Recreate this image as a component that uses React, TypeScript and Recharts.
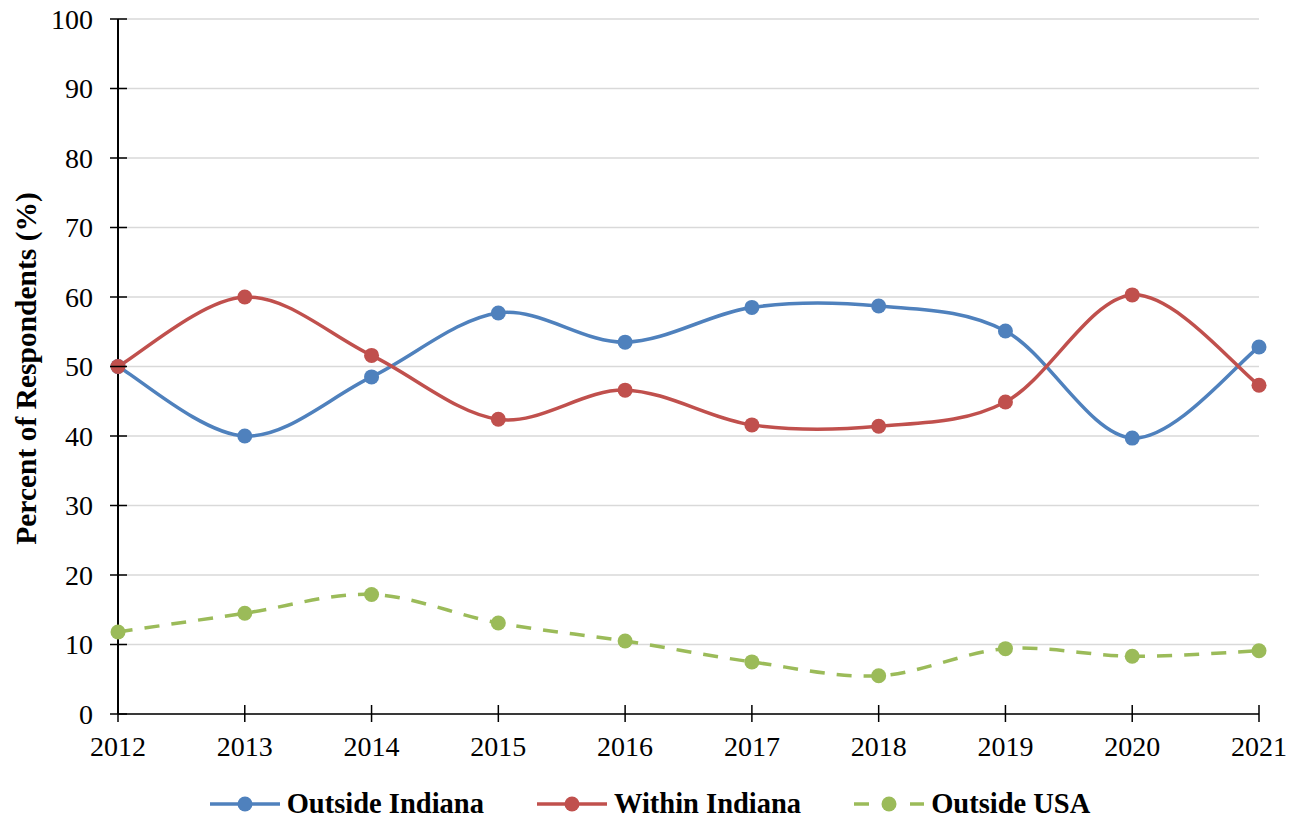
import React from 'react';
import { LineChart, Line, XAxis, YAxis, CartesianGrid, Legend } from 'recharts';

// Survey years
const years = ['2012', '2013', '2014', '2015', '2016', '2017', '2018', '2019', '2020', '2021'];

// Share of respondents (%) per location group
const outsideIndiana = [50.0, 40.0, 48.5, 57.7, 53.5, 58.5, 58.7, 55.1, 39.7, 52.8];
const withinIndiana = [50.0, 60.0, 51.6, 42.4, 46.6, 41.6, 41.4, 44.9, 60.3, 47.3];
const outsideUSA = [11.8, 14.5, 17.2, 13.1, 10.5, 7.5, 5.5, 9.4, 8.3, 9.1];

const yTicks = [0, 10, 20, 30, 40, 50, 60, 70, 80, 90, 100];

const BLUE = '#4f81bd';
const RED = '#c0504d';
const GREEN = '#9bbb59';
const FONT = '"Liberation Serif", "Times New Roman", serif';

const seriesInfo = [
  { key: 'outsideIndiana', name: 'Outside Indiana', color: BLUE, dashed: false },
  { key: 'withinIndiana', name: 'Within Indiana', color: RED, dashed: false },
  { key: 'outsideUSA', name: 'Outside USA', color: GREEN, dashed: true },
];

const data = years.map((year, i) => ({
  year,
  outsideIndiana: outsideIndiana[i],
  withinIndiana: withinIndiana[i],
  outsideUSA: outsideUSA[i],
}));

// Catmull-Rom style smoothing (bezier control points at 1/6 of neighbour span)
function smoothCurve(context: any) {
  let pts: number[][] = [];
  return {
    areaStart() {},
    areaEnd() {},
    lineStart() {
      pts = [];
    },
    point(x: number, y: number) {
      pts.push([+x, +y]);
    },
    lineEnd() {
      const n = pts.length;
      if (n === 0) return;
      context.moveTo(pts[0][0], pts[0][1]);
      for (let i = 0; i < n - 1; i++) {
        const p0 = pts[i - 1] || pts[i];
        const p1 = pts[i];
        const p2 = pts[i + 1];
        const p3 = pts[i + 2] || p2;
        const c1x = p1[0] + (p2[0] - p0[0]) / 6;
        const c1y = p1[1] + (p2[1] - p0[1]) / 6;
        const c2x = p2[0] - (p3[0] - p1[0]) / 6;
        const c2y = p2[1] - (p3[1] - p1[1]) / 6;
        context.bezierCurveTo(c1x, c1y, c2x, c2y, p2[0], p2[1]);
      }
    },
  };
}

const YTick = (props: any) => {
  const { x, y, payload } = props;
  return (
    <g>
      <line x1={x - 8} x2={x + 9} y1={y} y2={y} stroke="#000" strokeWidth={1.5} />
      <text x={x - 25} y={y} dy="0.35em" textAnchor="end" fontFamily={FONT} fontSize={28} fill="#000">
        {payload.value}
      </text>
    </g>
  );
};

const XTick = (props: any) => {
  const { x, y, payload } = props;
  return (
    <g>
      <line x1={x} x2={x} y1={y - 9} y2={y + 8} stroke="#000" strokeWidth={1.5} />
      <text x={x} y={y + 42} textAnchor="middle" fontFamily={FONT} fontSize={28} fill="#000">
        {payload.value}
      </text>
    </g>
  );
};

const LegendContent = () => (
  <div
    style={{
      display: 'flex',
      justifyContent: 'center',
      alignItems: 'center',
      gap: 52,
      fontFamily: FONT,
      fontWeight: 'bold',
      fontSize: 28.5,
      color: '#000',
    }}
  >
    {seriesInfo.map((s) => (
      <div key={s.key} style={{ display: 'flex', alignItems: 'center', gap: 6 }}>
        <svg width={72} height={20}>
          {s.dashed ? (
            <g>
              <line x1={1} x2={16} y1={10} y2={10} stroke={s.color} strokeWidth={3.5} />
              <line x1={57} x2={71} y1={10} y2={10} stroke={s.color} strokeWidth={3.5} />
            </g>
          ) : (
            <line x1={1} x2={71} y1={10} y2={10} stroke={s.color} strokeWidth={3.5} />
          )}
          <circle cx={36} cy={10} r={7.5} fill={s.color} />
        </svg>
        <span>{s.name}</span>
      </div>
    ))}
  </div>
);

const YLabel = (props: any) => {
  const { viewBox } = props;
  const cy = viewBox.y + viewBox.height / 2 + 2;
  return (
    <text
      x={26}
      y={cy}
      transform={`rotate(-90, 26, ${cy})`}
      textAnchor="middle"
      dominantBaseline="central"
      fontFamily={FONT}
      fontWeight="bold"
      fontSize={29.5}
      fill="#000"
    >
      Percent of Respondents (%)
    </text>
  );
};

export default function App() {
  return (
    <div style={{ position: 'absolute', left: 0, top: 0, width: 1299, height: 821, background: '#fff' }}>
      <LineChart width={1299} height={821} data={data} margin={{ top: 19, right: 40, left: 0, bottom: 0 }}>
        <CartesianGrid vertical={false} stroke="#d9d9d9" strokeWidth={1.5} />
        <XAxis
          dataKey="year"
          height={107}
          axisLine={{ stroke: '#000', strokeWidth: 1.5 }}
          tickLine={false}
          tickSize={0}
          tickMargin={0}
          tick={<XTick />}
          interval={0}
        />
        <YAxis
          width={118}
          domain={[0, 100]}
          ticks={yTicks}
          axisLine={{ stroke: '#000', strokeWidth: 2 }}
          tickLine={false}
          tickSize={0}
          tickMargin={0}
          tick={<YTick />}
          interval={0}
          label={{ content: (p: any) => <YLabel {...p} /> }}
        />
        <Legend
          verticalAlign="middle"
          align="center"
          layout="horizontal"
          wrapperStyle={{ top: 788, left: 0, width: 1299 }}
          content={<LegendContent />}
        />
        {seriesInfo.map((s) => (
          <Line
            key={s.key}
            dataKey={s.key}
            name={s.name}
            type={smoothCurve as any}
            stroke={s.color}
            strokeWidth={3.5}
            strokeDasharray={s.dashed ? '15 12' : undefined}
            dot={{ r: 7.5, fill: s.color, stroke: 'none' }}
            activeDot={false}
            isAnimationActive={false}
          />
        ))}
      </LineChart>
    </div>
  );
}
